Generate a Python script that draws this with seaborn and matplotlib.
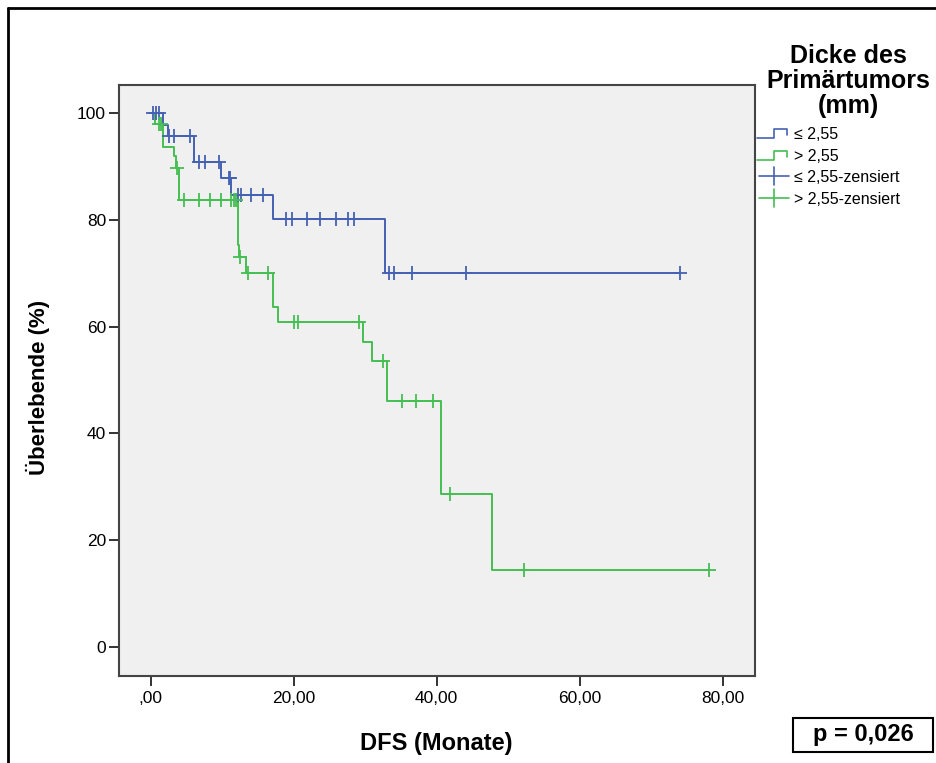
import numpy as np
import pandas as pd
import matplotlib
matplotlib.use("Agg")
import matplotlib.pyplot as plt
import seaborn as sns
from matplotlib.lines import Line2D
from matplotlib.legend_handler import HandlerBase
from matplotlib.patches import Rectangle

# ---------------- data ----------------
group_labels = ["≤ 2,55", "> 2,55"]
censor_labels = ["≤ 2,55-zensiert", "> 2,55-zensiert"]

blue_t = [0, 1.76, 2.4, 6.0, 9.9, 11.2, 17.1, 32.8, 74.0]
blue_s = [100, 97.8, 95.8, 90.9, 87.9, 84.7, 80.2, 70.1, 70.1]
blue_cens = [0.3, 0.8, 1.1, 2.6, 3.2, 5.5, 6.7, 7.6, 9.5, 10.9, 11.1, 12.25, 12.7,
             14.1, 15.7, 18.9, 19.7, 21.9, 23.7, 25.9, 27.6, 28.4, 33.4, 34.0,
             36.5, 44.1, 74.0]

green_t = [0, 0.6, 1.7, 3.2, 3.5, 3.9, 12.15, 12.4, 13.4, 17.1, 17.8, 29.7, 30.9,
           33.0, 40.6, 47.8, 78.1]
green_s = [100, 97.9, 93.7, 91.9, 89.7, 83.8, 75.3, 73.1, 70.0, 63.7, 60.8, 57.2,
           53.6, 46.1, 28.7, 14.4, 14.4]
green_cens = [1.2, 1.5, 3.7, 4.6, 6.8, 8.3, 9.9, 11.3, 11.7, 12.0, 12.5, 13.6, 16.4,
              20.0, 20.6, 29.1, 32.5, 35.2, 37.1, 39.5, 41.8, 52.2, 78.1]

x_ticks = [0, 20, 40, 60, 80]
x_ticklabels = [",00", "20,00", "40,00", "60,00", "80,00"]
y_ticks = [0, 20, 40, 60, 80, 100]
y_ticklabels = ["0", "20", "40", "60", "80", "100"]

BLUE = "#4561B3"
GREEN = "#45BE52"

# ---------------- style ----------------
sns.set_style("white")
plt.rcParams["font.family"] = ["Liberation Sans", "DejaVu Sans"]
plt.rcParams["text.color"] = "black"
plt.rcParams["axes.labelcolor"] = "black"

fig = plt.figure(figsize=(9.37, 7.63), dpi=100)
ax = fig.add_axes([0.1265, 0.114, 0.679, 0.7746])
ax.set_facecolor("#F0F0F0")


def step_value(ts, ss, c):
    idx = np.searchsorted(ts, c, side="right") - 1
    return ss[idx]


for ts, ss, cens, col in [(blue_t, blue_s, blue_cens, BLUE),
                          (green_t, green_s, green_cens, GREEN)]:
    df = pd.DataFrame({"t": ts, "s": ss})
    sns.lineplot(data=df, x="t", y="s", drawstyle="steps-post", color=col,
                 lw=1.4, estimator=None, sort=False, ax=ax, legend=False)
    cy = [step_value(np.array(ts), np.array(ss), c) for c in cens]
    dfc = pd.DataFrame({"t": cens, "s": cy})
    sns.scatterplot(data=dfc, x="t", y="s", marker="+", s=90, linewidth=1.3,
                    color=col, ax=ax, legend=False, zorder=3)

ax.set_xlim(-4.5, 84.5)
ax.set_ylim(-5.5, 105.3)
ax.set_xticks(x_ticks)
ax.set_xticklabels(x_ticklabels, fontsize=12.5)
ax.set_yticks(y_ticks)
ax.set_yticklabels(y_ticklabels, fontsize=12.5)
ax.tick_params(axis="both", direction="out", length=7, width=1.4, color="#333333",
               bottom=True, left=True, labelcolor="black")
ax.tick_params(axis="x", pad=4)
ax.tick_params(axis="y", pad=2)
for sp in ax.spines.values():
    sp.set_color("#444444")
    sp.set_linewidth(1.5)

ax.set_xlabel("DFS (Monate)", fontsize=17, fontweight="bold")
ax.set_ylabel("Überlebende (%)", fontsize=16, fontweight="bold")
ax.xaxis.set_label_coords(0.5, -(743 - 676) / 591)
ax.xaxis.label.set_va("center")
ax.yaxis.set_label_coords((38 - 118.5) / 636.5, 1 - (387 - 85) / 591)
ax.yaxis.label.set_va("center")


# ---------------- legend ----------------
class StepHandler(HandlerBase):
    def create_artists(self, legend, orig, xd, yd, w, h, fontsize, trans):
        xs = [xd, xd + 0.5 * w, xd + 0.5 * w, xd + 0.88 * w, xd + 0.88 * w]
        ys = [yd + 0.05 * h, yd + 0.05 * h, yd + 0.85 * h, yd + 0.85 * h, yd + 0.35 * h]
        return [Line2D(xs, ys, color=orig.get_color(), lw=1.2, transform=trans)]


class CensHandler(HandlerBase):
    def create_artists(self, legend, orig, xd, yd, w, h, fontsize, trans):
        c = orig.get_color()
        l1 = Line2D([xd + 0.05 * w, xd + 0.95 * w], [yd + 0.55 * h] * 2, color=c,
                    lw=1.2, transform=trans)
        l2 = Line2D([xd + 0.5 * w] * 2, [yd - 0.25 * h, yd + 1.35 * h], color=c,
                    lw=1.2, transform=trans)
        return [l1, l2]


h_b = Line2D([], [], color=BLUE)
h_g = Line2D([], [], color=GREEN)
h_bc = Line2D([], [], color=BLUE)
h_gc = Line2D([], [], color=GREEN)
handles = [h_b, h_g, h_bc, h_gc]
labels = group_labels + censor_labels
fig.legend(handles, labels, loc="upper left",
           bbox_to_anchor=(757 / 937, 1 - 127 / 763), bbox_transform=fig.transFigure,
           frameon=False, fontsize=11.5, handlelength=2.1, handletextpad=0.2,
           labelspacing=0.42, borderpad=0, borderaxespad=0,
           handler_map={h_b: StepHandler(), h_g: StepHandler(),
                        h_bc: CensHandler(), h_gc: CensHandler()})

fig.text(848 / 937, 1 - 81 / 763, "Dicke des\nPrimärtumors\n(mm)", ha="center",
         va="center", fontsize=18, fontweight="bold", linespacing=1.05,
         multialignment="center")

# ---------------- p-value box ----------------
fig.patches.append(Rectangle((793 / 937, 1 - 752 / 763), 140 / 937, 34 / 763,
                             transform=fig.transFigure, fill=False,
                             edgecolor="black", lw=1.5))
fig.text(863 / 937, 1 - 735 / 763, "p = 0,026", ha="center", va="center",
         fontsize=17, fontweight="bold")

# ---------------- outer frame ----------------
fig.lines.append(Line2D([8 / 937, 1.0], [1 - 8 / 763] * 2, transform=fig.transFigure,
                        color="black", lw=2))
fig.lines.append(Line2D([8 / 937] * 2, [0, 1 - 8 / 763], transform=fig.transFigure,
                        color="black", lw=2))

fig.savefig("out.png", dpi=100)
